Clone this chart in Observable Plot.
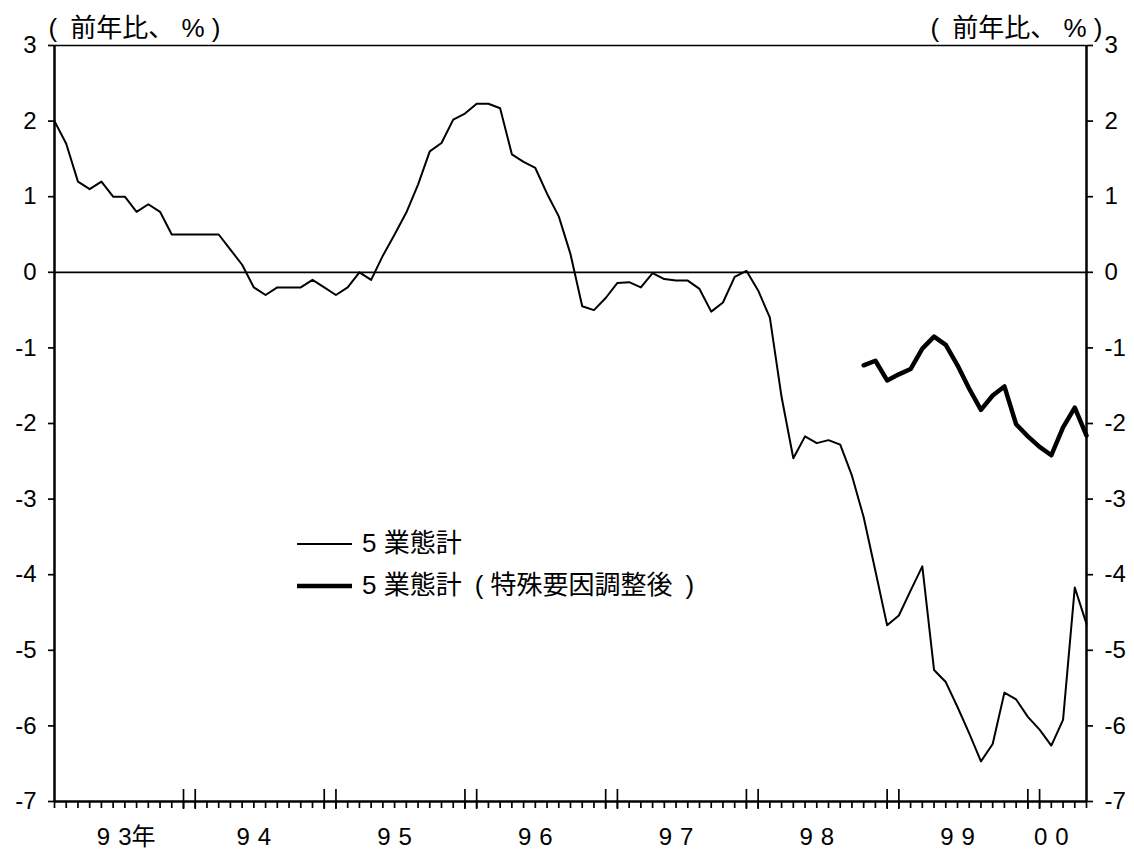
<!DOCTYPE html>
<html><head><meta charset="utf-8">
<script src="https://cdn.jsdelivr.net/npm/d3@7"></script>
<script src="https://cdn.jsdelivr.net/npm/@observablehq/plot@0.6"></script>
<style>
body{margin:0;background:#fff;}
#wrap{position:relative;width:1134px;height:849px;}
#legend{position:absolute;left:0;top:0;pointer-events:none;}
</style></head><body><div id="wrap"></div>
<script>
// Monthly series, Jan 1993 (index 0) .. May 2000 (index 88)
const total = [
  2.0, 1.7, 1.2, 1.1, 1.2, 1.0, 1.0, 0.8, 0.9, 0.8, 0.5, 0.5,
  0.5, 0.5, 0.5, 0.3, 0.1, -0.2, -0.3, -0.2, -0.2, -0.2, -0.1, -0.2,
  -0.3, -0.2, 0.0, -0.1, 0.22, 0.5, 0.79, 1.16, 1.6, 1.71, 2.02, 2.1,
  2.23, 2.23, 2.17, 1.56, 1.46, 1.38, 1.04, 0.74, 0.24, -0.45, -0.5, -0.34,
  -0.14, -0.13, -0.2, -0.01, -0.09, -0.11, -0.11, -0.22, -0.52, -0.4, -0.06, 0.02,
  -0.24, -0.6, -1.65, -2.46, -2.17, -2.26, -2.22, -2.28, -2.69, -3.24, -3.95, -4.67,
  -4.54, -4.21, -3.89, -5.26, -5.42, -5.75, -6.1, -6.47, -6.24, -5.56, -5.65, -5.88,
  -6.05, -6.26, -5.92, -4.17, -4.65
];
// Adjusted series, Oct 1998 (index 69) .. May 2000
const adjustedStart = 69;
const adjusted = [
  -1.23, -1.17, -1.43, -1.35, -1.28, -1.01, -0.85, -0.96, -1.23, -1.54,
  -1.82, -1.63, -1.51, -2.01, -2.17, -2.31, -2.42, -2.05, -1.79, -2.16
];
const yearTicks = [5, 17, 29, 41, 53, 65, 77, 85];
const yearLabels = ["9\u20043年", "9\u20044", "9\u20045", "9\u20046", "9\u20047", "9\u20048", "9\u20049", "0\u20040"];
const yTicks = [-7, -6, -5, -4, -3, -2, -1, 0, 1, 2, 3];
const unitLabel = "(\u2002前年比、 % )";
const seriesNames = ["5 業態計", "5 業態計\u2002( 特殊要因調整後\u2002)"];

const totalData = total.map((v, i) => ({i, v}));
const adjData = adjusted.map((v, k) => ({i: adjustedStart + k, v}));
const months = d3.range(total.length);
const tallTicks = months.filter(i => i % 12 === 11 || (i % 12 === 0 && i > 0));
const yearLabelOf = new Map(yearTicks.map((t, k) => [t, yearLabels[k]]));

const fam = `"Liberation Sans", Arial, "Noto Sans CJK JP", sans-serif`;

const chart = Plot.plot({
  width: 1134, height: 849,
  marginLeft: 54, marginRight: 48, marginTop: 45, marginBottom: 48,
  style: {fontFamily: fam, fontSize: "24px", color: "#000", background: "#fff"},
  x: {type: "linear", domain: [0, total.length - 1]},
  y: {domain: [-7, 3]},
  marks: [
    Plot.ruleY([3], {strokeWidth: 1.7}),
    Plot.ruleY([0], {strokeWidth: 1.7}),
    Plot.axisX({ticks: months, tickSize: 7, strokeWidth: 1.7, fill: "none", label: null}),
    Plot.axisX({ticks: tallTicks, tickSize: 20, dy: -12, strokeWidth: 1.7, fill: "none", label: null}),
    Plot.axisX({ticks: yearTicks.slice(1), tickSize: 0, tickPadding: 26, tickFormat: d => yearLabelOf.get(d), label: null}),
    Plot.axisX({ticks: yearTicks.slice(0, 1), tickSize: 0, tickPadding: 26, dx: 13, tickFormat: d => yearLabelOf.get(d), label: null}),
    Plot.axisY({anchor: "left", ticks: yTicks, tickSize: 6, tickPadding: 12, strokeWidth: 1.7, tickFormat: d => String(d), label: null}),
    Plot.axisY({anchor: "right", ticks: yTicks, tickSize: 6, tickPadding: 12, strokeWidth: 1.7, tickFormat: d => String(d), label: null}),
    Plot.ruleX([0, total.length - 1], {strokeWidth: 2.5}),
    Plot.ruleY([-7], {strokeWidth: 2.5}),
    Plot.line(totalData, {x: "i", y: "v", stroke: "#000", strokeWidth: 2}),
    Plot.line(adjData, {x: "i", y: "v", stroke: "#000", strokeWidth: 4.5}),
    Plot.text([unitLabel], {text: d => d, frameAnchor: "top-left", textAnchor: "start", lineAnchor: "middle", dx: -6, dy: -17, fontSize: 26}),
    Plot.text([unitLabel], {text: d => d, frameAnchor: "top-right", textAnchor: "end", lineAnchor: "middle", dx: 16, dy: -17, fontSize: 26})
  ]
});
const wrap = document.getElementById("wrap");
wrap.appendChild(chart);

// in-chart legend overlay
const lg = d3.select(wrap).append("svg").attr("id", "legend")
  .attr("width", 1134).attr("height", 849)
  .style("font-family", fam).style("font-size", "26px");
const legendRows = [
  {name: seriesNames[0], w: 2, y: 544},
  {name: seriesNames[1], w: 4.5, y: 586}
];
for (const r of legendRows) {
  lg.append("line").attr("x1", 297).attr("x2", 352).attr("y1", r.y).attr("y2", r.y)
    .attr("stroke", "#000").attr("stroke-width", r.w);
  lg.append("text").attr("x", 362).attr("y", r.y + 8).attr("fill", "#000").text(r.name);
}
</script></body></html>
